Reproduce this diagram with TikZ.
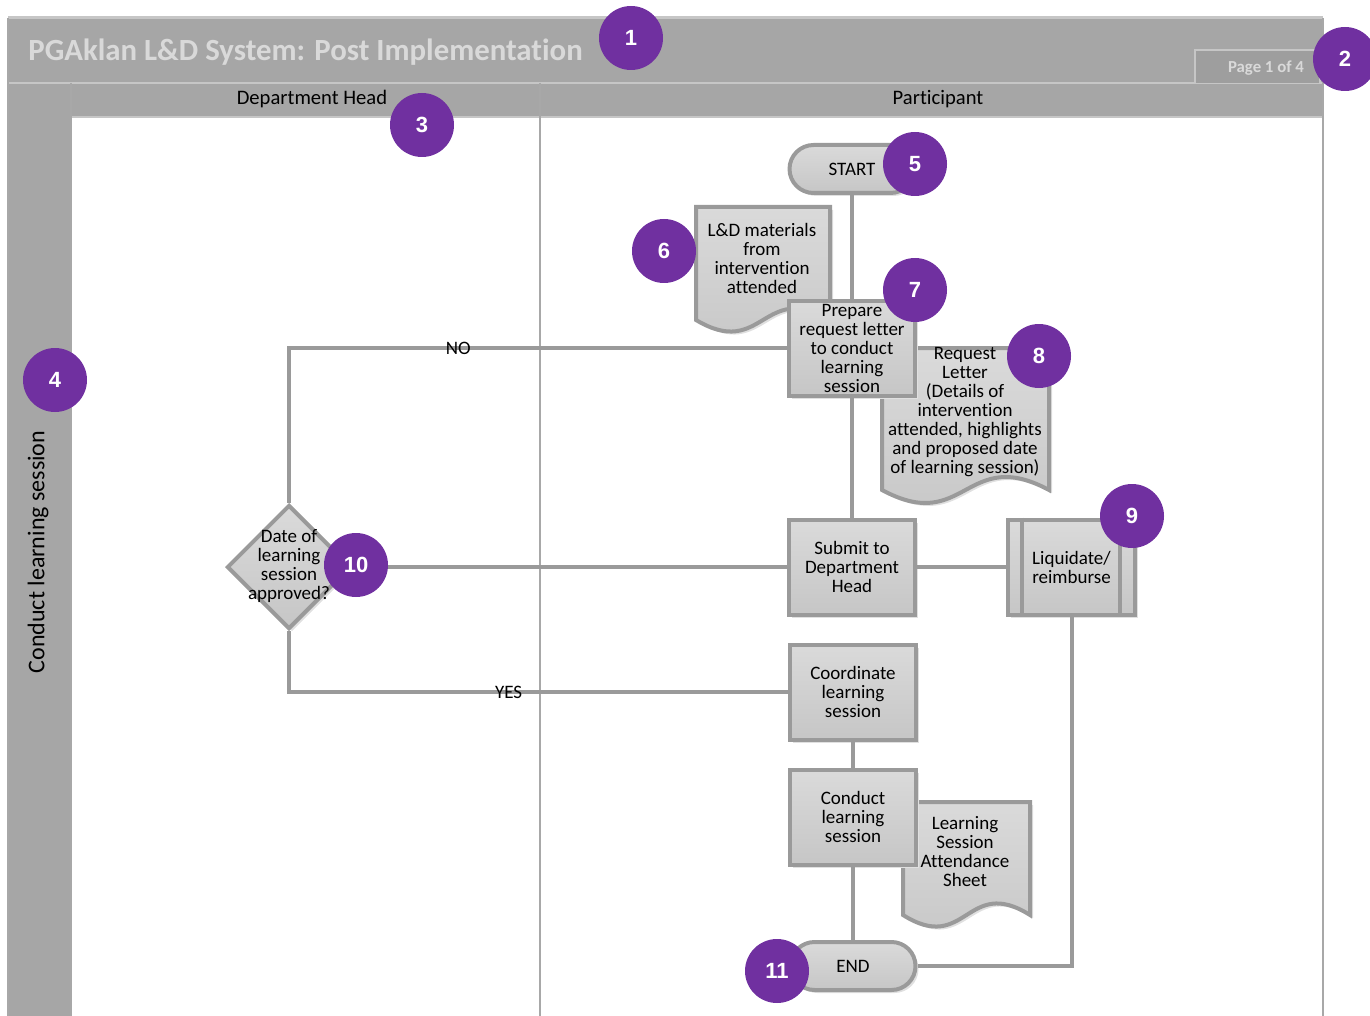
\documentclass[tikz,border=0pt]{standalone}
\usepackage{fontspec}
\setmainfont{Carlito}[Ligatures=CommonOff]
\newfontfamily\badgefont{Liberation Sans}
\usetikzlibrary{positioning,shapes.geometric,shadows}
\definecolor{bandgray}{HTML}{A6A6A6}
\definecolor{bandline}{HTML}{C6C6C6}
\definecolor{titlegray}{HTML}{D9D9D9}
\definecolor{tabgray}{HTML}{9E9E9E}
\definecolor{boxtop}{HTML}{DADADA}
\definecolor{boxbottom}{HTML}{C6C6C6}
\definecolor{boxline}{HTML}{9A9A9A}
\definecolor{flowline}{HTML}{9A9A9A}
\definecolor{laneline}{HTML}{A8A8A8}
\definecolor{badgepurple}{HTML}{7030A0}
\newcommand\flowfont{\fontsize{9.5}{9.5}\selectfont}
% document symbol: x0, y0, x1, y at wave, wave depth
\newcommand\docshape[5]{%
  \path[boxshade] (#1,#2) -- (#3,#2) -- (#3,#4)
    .. controls ({(#1+#3)/2},{#4-#5}) and ({(#1+#3)/2},{#4+#5}) .. (#1,#4) -- cycle;}

\tikzset{
  boxshade/.style={top color=boxtop, bottom color=boxbottom, draw=boxline, line width=2pt,
    drop shadow={shadow xshift=1.5pt, shadow yshift=-1.5pt, fill=black!12, opacity=1}},
  process/.style={boxshade, rectangle, minimum width=63pt, minimum height=47.5pt,
    inner sep=0pt, align=center, font=\flowfont},
  terminal/.style={boxshade, rectangle, rounded corners=12pt, minimum width=62.5pt,
    minimum height=24pt, inner sep=0pt, font=\flowfont},
  decision/.style={boxshade, diamond, minimum width=62pt, minimum height=62pt, inner sep=0pt},
  boxtext/.style={align=center, font=\flowfont, inner sep=0pt},
  flow/.style={draw=flowline, line width=2pt},
  lbl/.style={font=\flowfont, inner sep=0pt},
  badge/.style={circle, fill=badgepurple, minimum size=32pt, inner sep=0pt, text=white,
    font=\badgefont\bfseries\fontsize{11}{11}\selectfont},
}

\begin{document}
\begin{tikzpicture}[x=0.5pt, y=-0.5pt]
\useasboundingbox (0,0) rectangle (1370,1016);

% swimlane frame
\fill[bandgray] (8,18) rectangle (1323,117);
\fill[bandgray] (8,117) rectangle (71,1016);
\draw[bandline, line width=1.5pt] (8,18) -- (1323,18);
\draw[bandline, line width=1pt] (8,83) -- (1323,83);
\draw[bandline, line width=1pt] (71,117) -- (1323,117);
\draw[laneline, line width=1pt] (8,18) -- (8,1016);
\draw[laneline, line width=1pt] (71,83) -- (71,1016);
\draw[laneline, line width=1pt] (540,83) -- (540,1016);
\draw[laneline, line width=1pt] (1323,18) -- (1323,1016);
\draw[fill=tabgray, draw=bandline, line width=1pt] (1195,83) -- (1195,50) -- (1320,50) -- (1320,83);

\node[anchor=west, inner sep=0pt, text=titlegray, font=\bfseries\fontsize{15.4}{15.4}\selectfont] (title) at (28,52)
  {PGAklan L\&D System: Post Implementation};
\node[text=titlegray, font=\bfseries\fontsize{8.4}{8.4}\selectfont] (pagetab) at (1266,68) {Page 1 of 4};
\node[font=\fontsize{10.3}{10.3}\selectfont] (depthead) at (312,99) {Department Head};
\node[font=\fontsize{10.3}{10.3}\selectfont] (participant) at (938,99) {Participant};
\node[rotate=90, font=\fontsize{12}{12}\selectfont] (lanelabel) at (38,552) {Conduct learning session};

% documents
\docshape{696}{207}{830}{320}{40}
\node[boxtext] (ldmat) at (762,258) {L\&D materials\\from\\intervention\\attended};
\docshape{882}{348}{1049}{490}{45}
\node[boxtext] (reqletter) at (965,412)
  {Request\\Letter\\(Details of\\intervention\\attended, highlights\\and proposed date\\of learning session)};
\docshape{903}{802}{1030}{915}{40}
\node[boxtext] (attsheet) at (965,852) {Learning\\Session\\Attendance\\Sheet};

% steps
\node[terminal] (start) at (852,169) {START};
\node[process] (prep) at (852,348) {Prepare\\request letter\\to conduct\\learning\\session};
\node[process] (submit) at (852,567) {Submit to\\Department\\Head};
\node[process, minimum width=63.5pt] (liq) at (1071.5,567) {Liquidate/\\reimburse};
\draw[boxline, line width=2pt] ([xshift=8pt]liq.north west) -- ([xshift=8pt]liq.south west);
\draw[boxline, line width=2pt] ([xshift=-8.5pt]liq.north east) -- ([xshift=-8.5pt]liq.south east);
\node[process] (coord) at (853,692) {Coordinate\\learning\\session};
\node[process] (conduct) at (853,817) {Conduct\\learning\\session};
\node[terminal] (finish) at (853,966) {END};
\node[decision] (dec) at (289,567) {};
\node[boxtext] (dectext) at (289,566) {Date of\\learning\\session\\approved?};

% connectors
\draw[flow] (start) -- (prep);
\draw[flow] (prep) -- (submit);
\draw[flow] (prep.west) -| node[lbl, pos=0.33] {NO} (dec.north);
\draw[flow] (dec.east) -- (submit.west);
\draw[flow] (dec.south) |- node[lbl, pos=0.72] {YES} (coord.west);
\draw[flow] (coord) -- (conduct);
\draw[flow] (conduct) -- (finish);
\draw[flow] (submit.east) -- (liq.west);
\draw[flow] (liq.south) |- (finish.east);

% callouts
\node[badge] (badge1) at (631,38) {1};
\node[badge] (badge2) at (1345,59) {2};
\node[badge] (badge3) at (422,125) {3};
\node[badge] (badge4) at (55,380) {4};
\node[badge] (badge5) at (915,164) {5};
\node[badge] (badge6) at (664,251) {6};
\node[badge] (badge7) at (915,290) {7};
\node[badge] (badge8) at (1039,356) {8};
\node[badge] (badge9) at (1132,516) {9};
\node[badge] (badge10) at (356,565) {10};
\node[badge] (badge11) at (777,971) {11};
\end{tikzpicture}
\end{document}
